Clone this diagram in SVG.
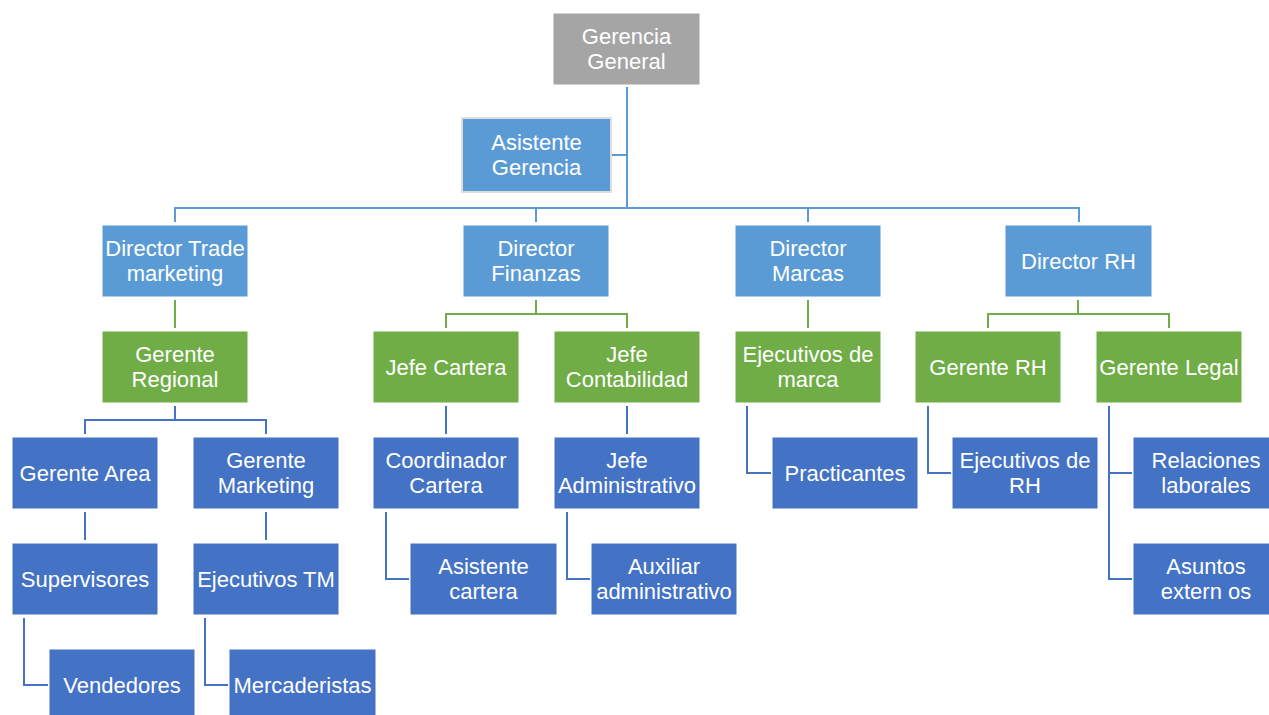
<svg xmlns="http://www.w3.org/2000/svg" width="1269" height="715" viewBox="0 0 1269 715">
  <style>
    .box { stroke: #ffffff; stroke-width: 1; }
    .gray { fill: #A5A5A5; }
    .light { fill: #5B9BD5; }
    .green { fill: #70AD47; }
    .dark { fill: #4472C4; }
    .asst { fill: #5B9BD5; stroke: #DDDDDD; stroke-width: 2; }
    text { font-family: "Liberation Sans", Arial, sans-serif; font-size: 22px; fill: #ffffff; text-anchor: middle; }
    .ln { fill: none; stroke-width: 2; }
    .c-light { stroke: #5B9BD5; }
    .c-green { stroke: #70AD47; }
    .c-dark { stroke: #4472C4; }
  </style>
  <rect width="1269" height="715" fill="#ffffff"/>

  <!-- connectors -->
  <g id="connectors">
    <path class="ln c-light" d="M627,87 V208 M612,155 H627 M175,222 V208 H1079 V222 M536,208 V222 M808,208 V222"/>
    <path class="ln c-green" d="M175,300 V328 M536,300 V314 M446,328 V314 H627 V328 M808,300 V328 M1078,300 V314 M988,328 V314 H1169 V328"/>
    <path class="ln c-dark" d="M175,406 V420 M85,434 V420 H266 V434 M85,512 V540 M266,512 V540 M24,618 V685 H48 M205,618 V685 H228 M446,406 V434 M627,406 V434 M386,512 V579 H409 M567,512 V579 H590 M747,406 V473 H771 M928,406 V473 H951 M1109,406 V579 H1132 M1109,473 H1132"/>
  </g>

  <!-- top -->
  <g id="gerencia-general">
    <rect class="box gray" x="553" y="13" width="147" height="72"/>
    <text x="626.5" y="44">Gerencia</text>
    <text x="626.5" y="69">General</text>
  </g>
  <g id="asistente-gerencia">
    <rect class="asst" x="462" y="118" width="149" height="74"/>
    <text x="536.5" y="150">Asistente</text>
    <text x="536.5" y="175">Gerencia</text>
  </g>

  <!-- directors -->
  <g id="director-trade">
    <rect class="box light" x="102" y="225" width="146" height="72"/>
    <text x="175" y="256">Director Trade</text>
    <text x="175" y="281">marketing</text>
  </g>
  <g id="director-finanzas">
    <rect class="box light" x="463" y="225" width="146" height="72"/>
    <text x="536" y="256">Director</text>
    <text x="536" y="281">Finanzas</text>
  </g>
  <g id="director-marcas">
    <rect class="box light" x="735" y="225" width="146" height="72"/>
    <text x="808" y="256">Director</text>
    <text x="808" y="281">Marcas</text>
  </g>
  <g id="director-rh">
    <rect class="box light" x="1005" y="225" width="147" height="72"/>
    <text x="1078.5" y="269">Director RH</text>
  </g>

  <!-- managers -->
  <g id="gerente-regional">
    <rect class="box green" x="102" y="331" width="146" height="72"/>
    <text x="175" y="362">Gerente</text>
    <text x="175" y="387">Regional</text>
  </g>
  <g id="jefe-cartera">
    <rect class="box green" x="373" y="331" width="146" height="72"/>
    <text x="446" y="375">Jefe Cartera</text>
  </g>
  <g id="jefe-contabilidad">
    <rect class="box green" x="554" y="331" width="146" height="72"/>
    <text x="627" y="362">Jefe</text>
    <text x="627" y="387">Contabilidad</text>
  </g>
  <g id="ejecutivos-marca">
    <rect class="box green" x="735" y="331" width="146" height="72"/>
    <text x="808" y="362">Ejecutivos de</text>
    <text x="808" y="387">marca</text>
  </g>
  <g id="gerente-rh">
    <rect class="box green" x="915" y="331" width="146" height="72"/>
    <text x="988" y="375">Gerente RH</text>
  </g>
  <g id="gerente-legal">
    <rect class="box green" x="1096" y="331" width="146" height="72"/>
    <text x="1169" y="375">Gerente Legal</text>
  </g>

  <!-- row 4 -->
  <g id="gerente-area">
    <rect class="box dark" x="12" y="437" width="146" height="72"/>
    <text x="85" y="481">Gerente Area</text>
  </g>
  <g id="gerente-marketing">
    <rect class="box dark" x="193" y="437" width="146" height="72"/>
    <text x="266" y="468">Gerente</text>
    <text x="266" y="493">Marketing</text>
  </g>
  <g id="coordinador-cartera">
    <rect class="box dark" x="373" y="437" width="146" height="72"/>
    <text x="446" y="468">Coordinador</text>
    <text x="446" y="493">Cartera</text>
  </g>
  <g id="jefe-administrativo">
    <rect class="box dark" x="554" y="437" width="146" height="72"/>
    <text x="627" y="468">Jefe</text>
    <text x="627" y="493">Administrativo</text>
  </g>
  <g id="practicantes">
    <rect class="box dark" x="772" y="437" width="146" height="72"/>
    <text x="845" y="481">Practicantes</text>
  </g>
  <g id="ejecutivos-rh">
    <rect class="box dark" x="952" y="437" width="146" height="72"/>
    <text x="1025" y="468">Ejecutivos de</text>
    <text x="1025" y="493">RH</text>
  </g>
  <g id="relaciones-laborales">
    <rect class="box dark" x="1133" y="437" width="146" height="72"/>
    <text x="1206" y="468">Relaciones</text>
    <text x="1206" y="493">laborales</text>
  </g>

  <!-- row 5 -->
  <g id="supervisores">
    <rect class="box dark" x="12" y="543" width="146" height="72"/>
    <text x="85" y="587">Supervisores</text>
  </g>
  <g id="ejecutivos-tm">
    <rect class="box dark" x="193" y="543" width="146" height="72"/>
    <text x="266" y="587">Ejecutivos TM</text>
  </g>
  <g id="asistente-cartera">
    <rect class="box dark" x="410" y="543" width="147" height="72"/>
    <text x="483.5" y="574">Asistente</text>
    <text x="483.5" y="599">cartera</text>
  </g>
  <g id="auxiliar-administrativo">
    <rect class="box dark" x="591" y="543" width="146" height="72"/>
    <text x="664" y="574">Auxiliar</text>
    <text x="664" y="599">administrativo</text>
  </g>
  <g id="asuntos-externos">
    <rect class="box dark" x="1133" y="543" width="146" height="72"/>
    <text x="1206" y="574">Asuntos</text>
    <text x="1206" y="599">extern os</text>
  </g>

  <!-- row 6 -->
  <g id="vendedores">
    <rect class="box dark" x="49" y="649" width="146" height="72"/>
    <text x="122" y="693">Vendedores</text>
  </g>
  <g id="mercaderistas">
    <rect class="box dark" x="229" y="649" width="147" height="72"/>
    <text x="302.5" y="693">Mercaderistas</text>
  </g>
</svg>
